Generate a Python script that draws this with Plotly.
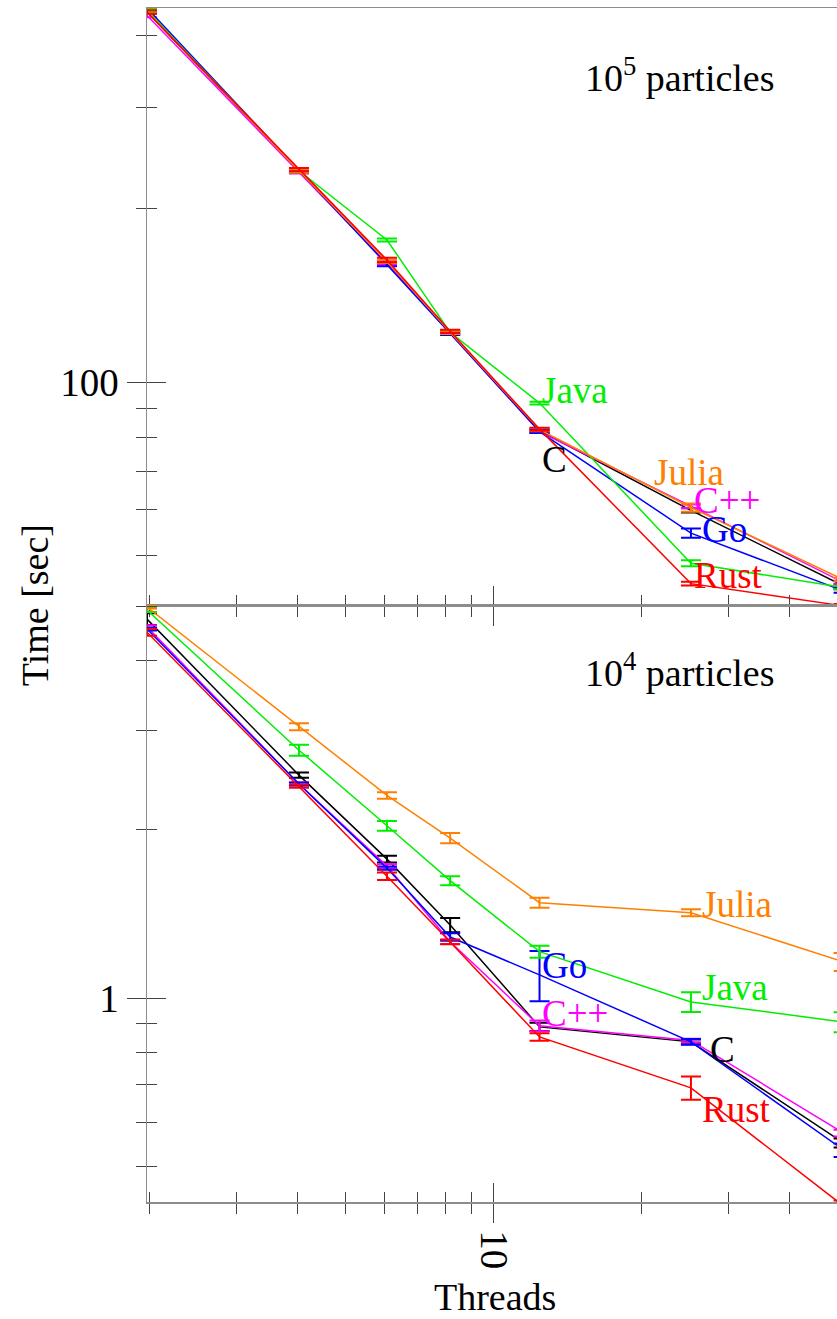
import numpy as np
import plotly.graph_objects as go

# ---------------- data ----------------
THREADS = [1.973, 4.02, 6.07, 8.16, 12.4, 25.2, 51.5]
LANGS = ["C", "C++", "Go", "Java", "Julia", "Rust"]

# 10^5 particles : time [sec]
T5_C = [440, 233, 162, 122, 82.3, 59.8, 44.2]
T5_CPP = [434, 232, 161, 121.5, 82.0, 60.8, 44.8]
T5_GO = [447, 233, 160, 121.5, 82.0, 54.6, 43.3]
T5_JAVA = [443, 233, 176.6, 122, 91.9, 48.4, 43.9]
T5_JULIA = [441, 233, 162, 122, 82.6, 60.5, 45.3]
T5_RUST = [440, 234, 163, 122.5, 82.8, 44.6, 40.8]

E5_C = [3, 1.5, 1.0, 0.8, 0.6, 0.5, 0.3]
E5_CPP = [3, 1.5, 1.0, 0.8, 0.5, 0.4, 0.3]
E5_GO = [3, 1.5, 1.0, 0.8, 0.5, 1.0, 0.3]
E5_JAVA = [3, 1.5, 1.0, 0.8, 0.5, 0.6, 0.3]
E5_JULIA = [3, 1.5, 1.0, 0.8, 0.5, 1.0, 0.3]
E5_RUST = [3, 1.5, 1.5, 0.8, 0.5, 0.35, 0.3]

# 10^4 particles : time [sec]
T4_C = [4.75, 2.50, 1.77, 1.35, 0.888, 0.835, 0.551]
T4_CPP = [4.60, 2.41, 1.72, 1.26, 0.892, 0.840, 0.574]
T4_GO = [4.56, 2.41, 1.706, 1.285, 1.10, 0.835, 0.535]
T4_JAVA = [4.93, 2.77, 2.03, 1.62, 1.21, 0.984, 0.906]
T4_JULIA = [4.99, 3.05, 2.30, 1.93, 1.48, 1.42, 1.16]
T4_RUST = [4.50, 2.39, 1.65, 1.259, 0.852, 0.691, 0.425]

E4_C = [0.117, 0.027, 0.025, 0.039, 0.015, 0.008, 0.010]
E4_CPP = [0.03, 0.015, 0.015, 0.012, 0.020, 0.006, 0.008]
E4_GO = [0.03, 0.015, 0.012, 0.020, 0.113, 0.010, 0.015]
E4_JAVA = [0.04, 0.063, 0.040, 0.030, 0.030, 0.040, 0.037]
E4_JULIA = [0.03, 0.044, 0.030, 0.040, 0.030, 0.020, 0.043]
E4_RUST = [0.065, 0.015, 0.025, 0.012, 0.013, 0.033, 0.010]

TOP = {"C": (T5_C, E5_C), "C++": (T5_CPP, E5_CPP), "Go": (T5_GO, E5_GO),
       "Java": (T5_JAVA, E5_JAVA), "Julia": (T5_JULIA, E5_JULIA), "Rust": (T5_RUST, E5_RUST)}
BOT = {"C": (T4_C, E4_C), "C++": (T4_CPP, E4_CPP), "Go": (T4_GO, E4_GO),
       "Java": (T4_JAVA, E4_JAVA), "Julia": (T4_JULIA, E4_JULIA), "Rust": (T4_RUST, E4_RUST)}

PANEL_TITLES = ["10<sup>5</sup> particles", "10<sup>4</sup> particles"]
X_TITLE = "Threads"
Y_TITLE = "Time [sec]"

# ---------------- style ----------------
COLORS = {"C": "#000000", "C++": "#ff00ff", "Go": "#0000ff",
          "Java": "#00ee00", "Julia": "#ff8000", "Rust": "#ff0000"}
FONT = "Liberation Serif, Times New Roman, serif"

# label anchor positions (left edge x, vertical centre y) in data units
LABELS_TOP = {"Java": (12.43, 96.8), "C": (12.43, 73.2), "Julia": (21.0, 69.5),
              "C++": (25.3, 62.3), "Go": (26.3, 55.3), "Rust": (25.3, 46.0)}
LABELS_BOT = {"Julia": (26.3, 1.466), "Go": (12.43, 1.145), "Java": (26.3, 1.042),
              "C++": (12.43, 0.94), "C": (27.3, 0.808), "Rust": (26.3, 0.631)}

X_RANGE = [np.log10(1.973), np.log10(1.973) + 690 / 491.7]
Y_RANGE_TOP = [2 - 223 / 575, 2 + 374 / 575]
Y_RANGE_BOT = [-204 / 560, 393 / 560]

X_MAJOR = [10]
X_MINOR = [2, 3, 4, 5, 6, 7, 8, 9, 20, 30, 40, 50]
Y_MAJOR_TOP = [100]
Y_MINOR_TOP = [50, 60, 70, 80, 90, 200, 300, 400]
Y_MAJOR_BOT = [1]
Y_MINOR_BOT = [0.5, 0.6, 0.7, 0.8, 0.9, 2, 3, 4, 5]

fig = go.Figure()

for data, xa, ya in [(TOP, "x", "y"), (BOT, "x2", "y2")]:
    for lang in LANGS:
        vals, errs = data[lang]
        fig.add_trace(go.Scatter(
            x=THREADS, y=vals, mode="lines", name=lang, showlegend=False,
            line=dict(color=COLORS[lang], width=1.5),
            error_y=dict(type="data", array=errs, visible=True,
                         color=COLORS[lang], thickness=2, width=10),
            xaxis=xa, yaxis=ya))

# empty traces so overlay axes (inside ticks) exist
for xa, ya in [("x3", "y3"), ("x4", "y4")]:
    fig.add_trace(go.Scatter(x=[], y=[], xaxis=xa, yaxis=ya, showlegend=False))

annotations = []
for labels, xa, ya in [(LABELS_TOP, "x", "y"), (LABELS_BOT, "x2", "y2")]:
    for lang, (lx, ly) in labels.items():
        annotations.append(dict(
            x=np.log10(lx), y=np.log10(ly), xref=xa, yref=ya, text=lang,
            showarrow=False, xanchor="left", yanchor="middle",
            font=dict(family=FONT, size=37, color=COLORS[lang])))

annotations += [
    dict(x=0.772, y=0.944, xref="paper", yref="paper", text=PANEL_TITLES[0],
         showarrow=False, xanchor="center", yanchor="middle",
         font=dict(family=FONT, size=38, color="black")),
    dict(x=0.772, y=0.4456, xref="paper", yref="paper", text=PANEL_TITLES[1],
         showarrow=False, xanchor="center", yanchor="middle",
         font=dict(family=FONT, size=38, color="black")),
    dict(x=0.504, y=-0.0796, xref="paper", yref="paper", text=X_TITLE,
         showarrow=False, xanchor="center", yanchor="middle",
         font=dict(family=FONT, size=38, color="black")),
    dict(x=-0.162, y=0.5, xref="paper", yref="paper", text=Y_TITLE,
         textangle=-90, showarrow=False, xanchor="center", yanchor="middle",
         font=dict(family=FONT, size=38, color="black")),
]

LINE_C = "#8c8c8c"
TICK_C = "#444444"
TICKFONT = dict(family=FONT, size=39, color="black")


def xax(anchor, labels, side_ticks, show_line, overlay=None):
    d = dict(type="log", range=X_RANGE, anchor=anchor, showgrid=False, zeroline=False,
             showline=show_line, mirror=show_line, linecolor=LINE_C, linewidth=1.5,
             ticks=side_ticks, tickmode="array", tickvals=X_MAJOR, ticktext=["10"],
             ticklen=19, tickwidth=1, tickcolor=TICK_C,
             showticklabels=labels, tickangle=90, tickfont=TICKFONT,
             minor=dict(tickmode="array", tickvals=X_MINOR, ticks=side_ticks,
                        ticklen=10, tickwidth=1, tickcolor=TICK_C))
    if overlay:
        d["overlaying"] = overlay
    return d


def yax(anchor, domain, rng, major, minor, text, side_ticks, show_line, overlay=None):
    d = dict(type="log", range=rng, anchor=anchor, showgrid=False, zeroline=False,
             showline=show_line, linecolor=LINE_C, linewidth=1.5,
             ticks=side_ticks, tickmode="array", tickvals=major, ticktext=text,
             ticklen=19, tickwidth=1, tickcolor=TICK_C,
             showticklabels=(overlay is None), tickfont=TICKFONT,
             minor=dict(tickmode="array", tickvals=minor, ticks=side_ticks,
                        ticklen=10, tickwidth=1, tickcolor=TICK_C))
    if overlay:
        d["overlaying"] = overlay
    else:
        d["domain"] = domain
    return d


fig.update_layout(
    width=837, height=1319,
    margin=dict(l=147, r=0, t=8, b=117),
    paper_bgcolor="white", plot_bgcolor="white",
    showlegend=False,
    xaxis=xax("y", False, "outside", True),
    xaxis2=xax("y2", True, "outside", True),
    xaxis3=xax("y", False, "inside", False, overlay="x"),
    xaxis4=xax("y2", False, "inside", False, overlay="x2"),
    yaxis=yax("x", [0.5, 1], Y_RANGE_TOP, Y_MAJOR_TOP, Y_MINOR_TOP, ["100"], "outside", True),
    yaxis2=yax("x2", [0, 0.5], Y_RANGE_BOT, Y_MAJOR_BOT, Y_MINOR_BOT, ["1"], "outside", True),
    yaxis3=yax("x", None, Y_RANGE_TOP, Y_MAJOR_TOP, Y_MINOR_TOP, ["100"], "inside", False, overlay="y"),
    yaxis4=yax("x2", None, Y_RANGE_BOT, Y_MAJOR_BOT, Y_MINOR_BOT, ["1"], "inside", False, overlay="y2"),
    annotations=annotations,
)

fig.write_html(
    "out.html",
    config={"displayModeBar": False, "staticPlot": True},
    post_script="document.body.style.margin='0';document.body.style.overflow='hidden';",
)
